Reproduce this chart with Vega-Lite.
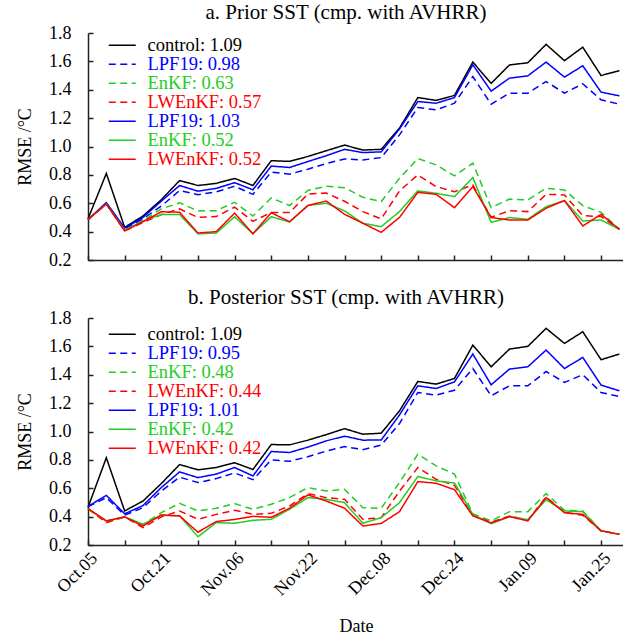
{
  "$schema": "https://vega.github.io/schema/vega-lite/v6.json",
  "padding": {"left": 16, "top": 2, "right": 0, "bottom": 0},
  "config": {
    "font": "Liberation Serif",
    "view": {"stroke": null},
    "axis": {"labelFont": "Liberation Serif", "labelFontSize": 18, "labelColor": "#000", "titleFont": "Liberation Serif", "titleFontSize": 18, "titleFontWeight": "normal", "titleColor": "#000", "domainColor": "#222", "tickColor": "#222", "domainWidth": 1.5, "tickWidth": 1.5, "grid": false, "tickSize": -5},
    "title": {"font": "Liberation Serif", "fontSize": 21, "fontWeight": "normal", "color": "#000", "anchor": "middle", "offset": 1, "dx": -10},
    "legend": {"labelFont": "Liberation Serif"}
  },
  "datasets": {
    "prior": [
{"date":"2019-10-05T00:00","series":"control: 1.09","rmse":0.49},{"date":"2019-10-09T00:00","series":"control: 1.09","rmse":0.81},{"date":"2019-10-13T00:00","series":"control: 1.09","rmse":0.43},{"date":"2019-10-17T00:00","series":"control: 1.09","rmse":0.51},{"date":"2019-10-21T00:00","series":"control: 1.09","rmse":0.625},{"date":"2019-10-25T00:00","series":"control: 1.09","rmse":0.76},{"date":"2019-10-29T00:00","series":"control: 1.09","rmse":0.725},{"date":"2019-11-02T00:00","series":"control: 1.09","rmse":0.74},{"date":"2019-11-06T00:00","series":"control: 1.09","rmse":0.775},{"date":"2019-11-10T00:00","series":"control: 1.09","rmse":0.725},{"date":"2019-11-14T00:00","series":"control: 1.09","rmse":0.9},{"date":"2019-11-18T00:00","series":"control: 1.09","rmse":0.895},{"date":"2019-11-22T00:00","series":"control: 1.09","rmse":0.93},{"date":"2019-11-26T00:00","series":"control: 1.09","rmse":0.97},{"date":"2019-11-30T00:00","series":"control: 1.09","rmse":1.01},{"date":"2019-12-04T00:00","series":"control: 1.09","rmse":0.975},{"date":"2019-12-08T00:00","series":"control: 1.09","rmse":0.98},{"date":"2019-12-12T00:00","series":"control: 1.09","rmse":1.13},{"date":"2019-12-16T00:00","series":"control: 1.09","rmse":1.345},{"date":"2019-12-20T00:00","series":"control: 1.09","rmse":1.325},{"date":"2019-12-24T00:00","series":"control: 1.09","rmse":1.36},{"date":"2019-12-28T00:00","series":"control: 1.09","rmse":1.595},{"date":"2020-01-01T00:00","series":"control: 1.09","rmse":1.445},{"date":"2020-01-05T00:00","series":"control: 1.09","rmse":1.575},{"date":"2020-01-09T00:00","series":"control: 1.09","rmse":1.59},{"date":"2020-01-13T00:00","series":"control: 1.09","rmse":1.72},{"date":"2020-01-17T00:00","series":"control: 1.09","rmse":1.605},{"date":"2020-01-21T00:00","series":"control: 1.09","rmse":1.7},{"date":"2020-01-25T00:00","series":"control: 1.09","rmse":1.5},{"date":"2020-01-29T00:00","series":"control: 1.09","rmse":1.535},
{"date":"2019-10-05T00:00","series":"LPF19: 0.98","rmse":0.485},{"date":"2019-10-09T00:00","series":"LPF19: 0.98","rmse":0.6},{"date":"2019-10-13T00:00","series":"LPF19: 0.98","rmse":0.42},{"date":"2019-10-17T00:00","series":"LPF19: 0.98","rmse":0.49},{"date":"2019-10-21T00:00","series":"LPF19: 0.98","rmse":0.58},{"date":"2019-10-25T00:00","series":"LPF19: 0.98","rmse":0.69},{"date":"2019-10-29T00:00","series":"LPF19: 0.98","rmse":0.66},{"date":"2019-11-02T00:00","series":"LPF19: 0.98","rmse":0.68},{"date":"2019-11-06T00:00","series":"LPF19: 0.98","rmse":0.72},{"date":"2019-11-10T00:00","series":"LPF19: 0.98","rmse":0.663},{"date":"2019-11-14T00:00","series":"LPF19: 0.98","rmse":0.82},{"date":"2019-11-18T00:00","series":"LPF19: 0.98","rmse":0.805},{"date":"2019-11-22T00:00","series":"LPF19: 0.98","rmse":0.84},{"date":"2019-11-26T00:00","series":"LPF19: 0.98","rmse":0.88},{"date":"2019-11-30T00:00","series":"LPF19: 0.98","rmse":0.912},{"date":"2019-12-04T00:00","series":"LPF19: 0.98","rmse":0.905},{"date":"2019-12-08T00:00","series":"LPF19: 0.98","rmse":0.922},{"date":"2019-12-12T00:00","series":"LPF19: 0.98","rmse":1.082},{"date":"2019-12-16T00:00","series":"LPF19: 0.98","rmse":1.275},{"date":"2019-12-20T00:00","series":"LPF19: 0.98","rmse":1.258},{"date":"2019-12-24T00:00","series":"LPF19: 0.98","rmse":1.305},{"date":"2019-12-28T00:00","series":"LPF19: 0.98","rmse":1.493},{"date":"2020-01-01T00:00","series":"LPF19: 0.98","rmse":1.298},{"date":"2020-01-05T00:00","series":"LPF19: 0.98","rmse":1.376},{"date":"2020-01-09T00:00","series":"LPF19: 0.98","rmse":1.376},{"date":"2020-01-13T00:00","series":"LPF19: 0.98","rmse":1.458},{"date":"2020-01-17T00:00","series":"LPF19: 0.98","rmse":1.376},{"date":"2020-01-21T00:00","series":"LPF19: 0.98","rmse":1.442},{"date":"2020-01-25T00:00","series":"LPF19: 0.98","rmse":1.329},{"date":"2020-01-29T00:00","series":"LPF19: 0.98","rmse":1.298},
{"date":"2019-10-05T00:00","series":"EnKF: 0.63","rmse":0.485},{"date":"2019-10-09T00:00","series":"EnKF: 0.63","rmse":0.595},{"date":"2019-10-13T00:00","series":"EnKF: 0.63","rmse":0.41},{"date":"2019-10-17T00:00","series":"EnKF: 0.63","rmse":0.476},{"date":"2019-10-21T00:00","series":"EnKF: 0.63","rmse":0.56},{"date":"2019-10-25T00:00","series":"EnKF: 0.63","rmse":0.603},{"date":"2019-10-29T00:00","series":"EnKF: 0.63","rmse":0.546},{"date":"2019-11-02T00:00","series":"EnKF: 0.63","rmse":0.548},{"date":"2019-11-06T00:00","series":"EnKF: 0.63","rmse":0.607},{"date":"2019-11-10T00:00","series":"EnKF: 0.63","rmse":0.51},{"date":"2019-11-14T00:00","series":"EnKF: 0.63","rmse":0.637},{"date":"2019-11-18T00:00","series":"EnKF: 0.63","rmse":0.584},{"date":"2019-11-22T00:00","series":"EnKF: 0.63","rmse":0.69},{"date":"2019-11-26T00:00","series":"EnKF: 0.63","rmse":0.72},{"date":"2019-11-30T00:00","series":"EnKF: 0.63","rmse":0.71},{"date":"2019-12-04T00:00","series":"EnKF: 0.63","rmse":0.642},{"date":"2019-12-08T00:00","series":"EnKF: 0.63","rmse":0.612},{"date":"2019-12-12T00:00","series":"EnKF: 0.63","rmse":0.776},{"date":"2019-12-16T00:00","series":"EnKF: 0.63","rmse":0.915},{"date":"2019-12-20T00:00","series":"EnKF: 0.63","rmse":0.87},{"date":"2019-12-24T00:00","series":"EnKF: 0.63","rmse":0.793},{"date":"2019-12-28T00:00","series":"EnKF: 0.63","rmse":0.882},{"date":"2020-01-01T00:00","series":"EnKF: 0.63","rmse":0.569},{"date":"2020-01-05T00:00","series":"EnKF: 0.63","rmse":0.63},{"date":"2020-01-09T00:00","series":"EnKF: 0.63","rmse":0.623},{"date":"2020-01-13T00:00","series":"EnKF: 0.63","rmse":0.706},{"date":"2020-01-17T00:00","series":"EnKF: 0.63","rmse":0.694},{"date":"2020-01-21T00:00","series":"EnKF: 0.63","rmse":0.583},{"date":"2020-01-25T00:00","series":"EnKF: 0.63","rmse":0.536},{"date":"2020-01-29T00:00","series":"EnKF: 0.63","rmse":0.416},
{"date":"2019-10-05T00:00","series":"LWEnKF: 0.57","rmse":0.485},{"date":"2019-10-09T00:00","series":"LWEnKF: 0.57","rmse":0.595},{"date":"2019-10-13T00:00","series":"LWEnKF: 0.57","rmse":0.405},{"date":"2019-10-17T00:00","series":"LWEnKF: 0.57","rmse":0.465},{"date":"2019-10-21T00:00","series":"LWEnKF: 0.57","rmse":0.52},{"date":"2019-10-25T00:00","series":"LWEnKF: 0.57","rmse":0.56},{"date":"2019-10-29T00:00","series":"LWEnKF: 0.57","rmse":0.5},{"date":"2019-11-02T00:00","series":"LWEnKF: 0.57","rmse":0.506},{"date":"2019-11-06T00:00","series":"LWEnKF: 0.57","rmse":0.572},{"date":"2019-11-10T00:00","series":"LWEnKF: 0.57","rmse":0.473},{"date":"2019-11-14T00:00","series":"LWEnKF: 0.57","rmse":0.535},{"date":"2019-11-18T00:00","series":"LWEnKF: 0.57","rmse":0.534},{"date":"2019-11-22T00:00","series":"LWEnKF: 0.57","rmse":0.665},{"date":"2019-11-26T00:00","series":"LWEnKF: 0.57","rmse":0.672},{"date":"2019-11-30T00:00","series":"LWEnKF: 0.57","rmse":0.614},{"date":"2019-12-04T00:00","series":"LWEnKF: 0.57","rmse":0.541},{"date":"2019-12-08T00:00","series":"LWEnKF: 0.57","rmse":0.49},{"date":"2019-12-12T00:00","series":"LWEnKF: 0.57","rmse":0.687},{"date":"2019-12-16T00:00","series":"LWEnKF: 0.57","rmse":0.8},{"date":"2019-12-20T00:00","series":"LWEnKF: 0.57","rmse":0.717},{"date":"2019-12-24T00:00","series":"LWEnKF: 0.57","rmse":0.682},{"date":"2019-12-28T00:00","series":"LWEnKF: 0.57","rmse":0.729},{"date":"2020-01-01T00:00","series":"LWEnKF: 0.57","rmse":0.501},{"date":"2020-01-05T00:00","series":"LWEnKF: 0.57","rmse":0.548},{"date":"2020-01-09T00:00","series":"LWEnKF: 0.57","rmse":0.541},{"date":"2020-01-13T00:00","series":"LWEnKF: 0.57","rmse":0.663},{"date":"2020-01-17T00:00","series":"LWEnKF: 0.57","rmse":0.659},{"date":"2020-01-21T00:00","series":"LWEnKF: 0.57","rmse":0.513},{"date":"2020-01-25T00:00","series":"LWEnKF: 0.57","rmse":0.506},{"date":"2020-01-29T00:00","series":"LWEnKF: 0.57","rmse":0.416},
{"date":"2019-10-05T00:00","series":"LPF19: 1.03","rmse":0.485},{"date":"2019-10-09T00:00","series":"LPF19: 1.03","rmse":0.605},{"date":"2019-10-13T00:00","series":"LPF19: 1.03","rmse":0.425},{"date":"2019-10-17T00:00","series":"LPF19: 1.03","rmse":0.5},{"date":"2019-10-21T00:00","series":"LPF19: 1.03","rmse":0.615},{"date":"2019-10-25T00:00","series":"LPF19: 1.03","rmse":0.725},{"date":"2019-10-29T00:00","series":"LPF19: 1.03","rmse":0.685},{"date":"2019-11-02T00:00","series":"LPF19: 1.03","rmse":0.705},{"date":"2019-11-06T00:00","series":"LPF19: 1.03","rmse":0.745},{"date":"2019-11-10T00:00","series":"LPF19: 1.03","rmse":0.695},{"date":"2019-11-14T00:00","series":"LPF19: 1.03","rmse":0.862},{"date":"2019-11-18T00:00","series":"LPF19: 1.03","rmse":0.852},{"date":"2019-11-22T00:00","series":"LPF19: 1.03","rmse":0.894},{"date":"2019-11-26T00:00","series":"LPF19: 1.03","rmse":0.935},{"date":"2019-11-30T00:00","series":"LPF19: 1.03","rmse":0.98},{"date":"2019-12-04T00:00","series":"LPF19: 1.03","rmse":0.957},{"date":"2019-12-08T00:00","series":"LPF19: 1.03","rmse":0.962},{"date":"2019-12-12T00:00","series":"LPF19: 1.03","rmse":1.124},{"date":"2019-12-16T00:00","series":"LPF19: 1.03","rmse":1.317},{"date":"2019-12-20T00:00","series":"LPF19: 1.03","rmse":1.305},{"date":"2019-12-24T00:00","series":"LPF19: 1.03","rmse":1.345},{"date":"2019-12-28T00:00","series":"LPF19: 1.03","rmse":1.576},{"date":"2020-01-01T00:00","series":"LPF19: 1.03","rmse":1.39},{"date":"2020-01-05T00:00","series":"LPF19: 1.03","rmse":1.482},{"date":"2020-01-09T00:00","series":"LPF19: 1.03","rmse":1.498},{"date":"2020-01-13T00:00","series":"LPF19: 1.03","rmse":1.595},{"date":"2020-01-17T00:00","series":"LPF19: 1.03","rmse":1.489},{"date":"2020-01-21T00:00","series":"LPF19: 1.03","rmse":1.569},{"date":"2020-01-25T00:00","series":"LPF19: 1.03","rmse":1.383},{"date":"2020-01-29T00:00","series":"LPF19: 1.03","rmse":1.357},
{"date":"2019-10-05T00:00","series":"EnKF: 0.52","rmse":0.485},{"date":"2019-10-09T00:00","series":"EnKF: 0.52","rmse":0.595},{"date":"2019-10-13T00:00","series":"EnKF: 0.52","rmse":0.41},{"date":"2019-10-17T00:00","series":"EnKF: 0.52","rmse":0.476},{"date":"2019-10-21T00:00","series":"EnKF: 0.52","rmse":0.52},{"date":"2019-10-25T00:00","series":"EnKF: 0.52","rmse":0.52},{"date":"2019-10-29T00:00","series":"EnKF: 0.52","rmse":0.385},{"date":"2019-11-02T00:00","series":"EnKF: 0.52","rmse":0.39},{"date":"2019-11-06T00:00","series":"EnKF: 0.52","rmse":0.505},{"date":"2019-11-10T00:00","series":"EnKF: 0.52","rmse":0.385},{"date":"2019-11-14T00:00","series":"EnKF: 0.52","rmse":0.505},{"date":"2019-11-18T00:00","series":"EnKF: 0.52","rmse":0.468},{"date":"2019-11-22T00:00","series":"EnKF: 0.52","rmse":0.585},{"date":"2019-11-26T00:00","series":"EnKF: 0.52","rmse":0.6},{"date":"2019-11-30T00:00","series":"EnKF: 0.52","rmse":0.546},{"date":"2019-12-04T00:00","series":"EnKF: 0.52","rmse":0.459},{"date":"2019-12-08T00:00","series":"EnKF: 0.52","rmse":0.435},{"date":"2019-12-12T00:00","series":"EnKF: 0.52","rmse":0.541},{"date":"2019-12-16T00:00","series":"EnKF: 0.52","rmse":0.687},{"date":"2019-12-20T00:00","series":"EnKF: 0.52","rmse":0.67},{"date":"2019-12-24T00:00","series":"EnKF: 0.52","rmse":0.647},{"date":"2019-12-28T00:00","series":"EnKF: 0.52","rmse":0.781},{"date":"2020-01-01T00:00","series":"EnKF: 0.52","rmse":0.466},{"date":"2020-01-05T00:00","series":"EnKF: 0.52","rmse":0.499},{"date":"2020-01-09T00:00","series":"EnKF: 0.52","rmse":0.487},{"date":"2020-01-13T00:00","series":"EnKF: 0.52","rmse":0.576},{"date":"2020-01-17T00:00","series":"EnKF: 0.52","rmse":0.619},{"date":"2020-01-21T00:00","series":"EnKF: 0.52","rmse":0.475},{"date":"2020-01-25T00:00","series":"EnKF: 0.52","rmse":0.482},{"date":"2020-01-29T00:00","series":"EnKF: 0.52","rmse":0.416},
{"date":"2019-10-05T00:00","series":"LWEnKF: 0.52","rmse":0.485},{"date":"2019-10-09T00:00","series":"LWEnKF: 0.52","rmse":0.595},{"date":"2019-10-13T00:00","series":"LWEnKF: 0.52","rmse":0.405},{"date":"2019-10-17T00:00","series":"LWEnKF: 0.52","rmse":0.47},{"date":"2019-10-21T00:00","series":"LWEnKF: 0.52","rmse":0.54},{"date":"2019-10-25T00:00","series":"LWEnKF: 0.52","rmse":0.537},{"date":"2019-10-29T00:00","series":"LWEnKF: 0.52","rmse":0.39},{"date":"2019-11-02T00:00","series":"LWEnKF: 0.52","rmse":0.4},{"date":"2019-11-06T00:00","series":"LWEnKF: 0.52","rmse":0.53},{"date":"2019-11-10T00:00","series":"LWEnKF: 0.52","rmse":0.385},{"date":"2019-11-14T00:00","series":"LWEnKF: 0.52","rmse":0.533},{"date":"2019-11-18T00:00","series":"LWEnKF: 0.52","rmse":0.47},{"date":"2019-11-22T00:00","series":"LWEnKF: 0.52","rmse":0.583},{"date":"2019-11-26T00:00","series":"LWEnKF: 0.52","rmse":0.616},{"date":"2019-11-30T00:00","series":"LWEnKF: 0.52","rmse":0.522},{"date":"2019-12-04T00:00","series":"LWEnKF: 0.52","rmse":0.459},{"date":"2019-12-08T00:00","series":"LWEnKF: 0.52","rmse":0.395},{"date":"2019-12-12T00:00","series":"LWEnKF: 0.52","rmse":0.5},{"date":"2019-12-16T00:00","series":"LWEnKF: 0.52","rmse":0.677},{"date":"2019-12-20T00:00","series":"LWEnKF: 0.52","rmse":0.663},{"date":"2019-12-24T00:00","series":"LWEnKF: 0.52","rmse":0.569},{"date":"2019-12-28T00:00","series":"LWEnKF: 0.52","rmse":0.718},{"date":"2020-01-01T00:00","series":"LWEnKF: 0.52","rmse":0.499},{"date":"2020-01-05T00:00","series":"LWEnKF: 0.52","rmse":0.482},{"date":"2020-01-09T00:00","series":"LWEnKF: 0.52","rmse":0.482},{"date":"2020-01-13T00:00","series":"LWEnKF: 0.52","rmse":0.565},{"date":"2020-01-17T00:00","series":"LWEnKF: 0.52","rmse":0.619},{"date":"2020-01-21T00:00","series":"LWEnKF: 0.52","rmse":0.44},{"date":"2020-01-25T00:00","series":"LWEnKF: 0.52","rmse":0.522},{"date":"2020-01-29T00:00","series":"LWEnKF: 0.52","rmse":0.416}
    ],
    "posterior": [
{"date":"2019-10-05T00:00","series":"control: 1.09","rmse":0.465},{"date":"2019-10-09T00:00","series":"control: 1.09","rmse":0.815},{"date":"2019-10-13T00:00","series":"control: 1.09","rmse":0.44},{"date":"2019-10-17T00:00","series":"control: 1.09","rmse":0.51},{"date":"2019-10-21T00:00","series":"control: 1.09","rmse":0.633},{"date":"2019-10-25T00:00","series":"control: 1.09","rmse":0.767},{"date":"2019-10-29T00:00","series":"control: 1.09","rmse":0.73},{"date":"2019-11-02T00:00","series":"control: 1.09","rmse":0.746},{"date":"2019-11-06T00:00","series":"control: 1.09","rmse":0.78},{"date":"2019-11-10T00:00","series":"control: 1.09","rmse":0.732},{"date":"2019-11-14T00:00","series":"control: 1.09","rmse":0.908},{"date":"2019-11-18T00:00","series":"control: 1.09","rmse":0.906},{"date":"2019-11-22T00:00","series":"control: 1.09","rmse":0.939},{"date":"2019-11-26T00:00","series":"control: 1.09","rmse":0.978},{"date":"2019-11-30T00:00","series":"control: 1.09","rmse":1.02},{"date":"2019-12-04T00:00","series":"control: 1.09","rmse":0.981},{"date":"2019-12-08T00:00","series":"control: 1.09","rmse":0.988},{"date":"2019-12-12T00:00","series":"control: 1.09","rmse":1.146},{"date":"2019-12-16T00:00","series":"control: 1.09","rmse":1.353},{"date":"2019-12-20T00:00","series":"control: 1.09","rmse":1.334},{"date":"2019-12-24T00:00","series":"control: 1.09","rmse":1.374},{"date":"2019-12-28T00:00","series":"control: 1.09","rmse":1.609},{"date":"2020-01-01T00:00","series":"control: 1.09","rmse":1.456},{"date":"2020-01-05T00:00","series":"control: 1.09","rmse":1.581},{"date":"2020-01-09T00:00","series":"control: 1.09","rmse":1.6},{"date":"2020-01-13T00:00","series":"control: 1.09","rmse":1.727},{"date":"2020-01-17T00:00","series":"control: 1.09","rmse":1.621},{"date":"2020-01-21T00:00","series":"control: 1.09","rmse":1.703},{"date":"2020-01-25T00:00","series":"control: 1.09","rmse":1.506},{"date":"2020-01-29T00:00","series":"control: 1.09","rmse":1.546},
{"date":"2019-10-05T00:00","series":"LPF19: 0.95","rmse":0.47},{"date":"2019-10-09T00:00","series":"LPF19: 0.95","rmse":0.534},{"date":"2019-10-13T00:00","series":"LPF19: 0.95","rmse":0.41},{"date":"2019-10-17T00:00","series":"LPF19: 0.95","rmse":0.463},{"date":"2019-10-21T00:00","series":"LPF19: 0.95","rmse":0.58},{"date":"2019-10-25T00:00","series":"LPF19: 0.95","rmse":0.678},{"date":"2019-10-29T00:00","series":"LPF19: 0.95","rmse":0.64},{"date":"2019-11-02T00:00","series":"LPF19: 0.95","rmse":0.668},{"date":"2019-11-06T00:00","series":"LPF19: 0.95","rmse":0.708},{"date":"2019-11-10T00:00","series":"LPF19: 0.95","rmse":0.66},{"date":"2019-11-14T00:00","series":"LPF19: 0.95","rmse":0.8},{"date":"2019-11-18T00:00","series":"LPF19: 0.95","rmse":0.79},{"date":"2019-11-22T00:00","series":"LPF19: 0.95","rmse":0.822},{"date":"2019-11-26T00:00","series":"LPF19: 0.95","rmse":0.862},{"date":"2019-11-30T00:00","series":"LPF19: 0.95","rmse":0.894},{"date":"2019-12-04T00:00","series":"LPF19: 0.95","rmse":0.872},{"date":"2019-12-08T00:00","series":"LPF19: 0.95","rmse":0.904},{"date":"2019-12-12T00:00","series":"LPF19: 0.95","rmse":1.056},{"date":"2019-12-16T00:00","series":"LPF19: 0.95","rmse":1.275},{"date":"2019-12-20T00:00","series":"LPF19: 0.95","rmse":1.256},{"date":"2019-12-24T00:00","series":"LPF19: 0.95","rmse":1.291},{"date":"2019-12-28T00:00","series":"LPF19: 0.95","rmse":1.444},{"date":"2020-01-01T00:00","series":"LPF19: 0.95","rmse":1.252},{"date":"2020-01-05T00:00","series":"LPF19: 0.95","rmse":1.322},{"date":"2020-01-09T00:00","series":"LPF19: 0.95","rmse":1.322},{"date":"2020-01-13T00:00","series":"LPF19: 0.95","rmse":1.423},{"date":"2020-01-17T00:00","series":"LPF19: 0.95","rmse":1.346},{"date":"2020-01-21T00:00","series":"LPF19: 0.95","rmse":1.4},{"date":"2020-01-25T00:00","series":"LPF19: 0.95","rmse":1.275},{"date":"2020-01-29T00:00","series":"LPF19: 0.95","rmse":1.247},
{"date":"2019-10-05T00:00","series":"EnKF: 0.48","rmse":0.456},{"date":"2019-10-09T00:00","series":"EnKF: 0.48","rmse":0.362},{"date":"2019-10-13T00:00","series":"EnKF: 0.48","rmse":0.398},{"date":"2019-10-17T00:00","series":"EnKF: 0.48","rmse":0.345},{"date":"2019-10-21T00:00","series":"EnKF: 0.48","rmse":0.428},{"date":"2019-10-25T00:00","series":"EnKF: 0.48","rmse":0.494},{"date":"2019-10-29T00:00","series":"EnKF: 0.48","rmse":0.44},{"date":"2019-11-02T00:00","series":"EnKF: 0.48","rmse":0.459},{"date":"2019-11-06T00:00","series":"EnKF: 0.48","rmse":0.492},{"date":"2019-11-10T00:00","series":"EnKF: 0.48","rmse":0.452},{"date":"2019-11-14T00:00","series":"EnKF: 0.48","rmse":0.487},{"date":"2019-11-18T00:00","series":"EnKF: 0.48","rmse":0.534},{"date":"2019-11-22T00:00","series":"EnKF: 0.48","rmse":0.605},{"date":"2019-11-26T00:00","series":"EnKF: 0.48","rmse":0.581},{"date":"2019-11-30T00:00","series":"EnKF: 0.48","rmse":0.593},{"date":"2019-12-04T00:00","series":"EnKF: 0.48","rmse":0.463},{"date":"2019-12-08T00:00","series":"EnKF: 0.48","rmse":0.459},{"date":"2019-12-12T00:00","series":"EnKF: 0.48","rmse":0.64},{"date":"2019-12-16T00:00","series":"EnKF: 0.48","rmse":0.84},{"date":"2019-12-20T00:00","series":"EnKF: 0.48","rmse":0.758},{"date":"2019-12-24T00:00","series":"EnKF: 0.48","rmse":0.7},{"date":"2019-12-28T00:00","series":"EnKF: 0.48","rmse":0.42},{"date":"2020-01-01T00:00","series":"EnKF: 0.48","rmse":0.37},{"date":"2020-01-05T00:00","series":"EnKF: 0.48","rmse":0.435},{"date":"2020-01-09T00:00","series":"EnKF: 0.48","rmse":0.435},{"date":"2020-01-13T00:00","series":"EnKF: 0.48","rmse":0.562},{"date":"2020-01-17T00:00","series":"EnKF: 0.48","rmse":0.445},{"date":"2020-01-21T00:00","series":"EnKF: 0.48","rmse":0.44},{"date":"2020-01-25T00:00","series":"EnKF: 0.48","rmse":0.3},{"date":"2020-01-29T00:00","series":"EnKF: 0.48","rmse":0.275},
{"date":"2019-10-05T00:00","series":"LWEnKF: 0.44","rmse":0.456},{"date":"2019-10-09T00:00","series":"LWEnKF: 0.44","rmse":0.358},{"date":"2019-10-13T00:00","series":"LWEnKF: 0.44","rmse":0.398},{"date":"2019-10-17T00:00","series":"LWEnKF: 0.44","rmse":0.322},{"date":"2019-10-21T00:00","series":"LWEnKF: 0.44","rmse":0.398},{"date":"2019-10-25T00:00","series":"LWEnKF: 0.44","rmse":0.44},{"date":"2019-10-29T00:00","series":"LWEnKF: 0.44","rmse":0.381},{"date":"2019-11-02T00:00","series":"LWEnKF: 0.44","rmse":0.416},{"date":"2019-11-06T00:00","series":"LWEnKF: 0.44","rmse":0.445},{"date":"2019-11-10T00:00","series":"LWEnKF: 0.44","rmse":0.416},{"date":"2019-11-14T00:00","series":"LWEnKF: 0.44","rmse":0.423},{"date":"2019-11-18T00:00","series":"LWEnKF: 0.44","rmse":0.475},{"date":"2019-11-22T00:00","series":"LWEnKF: 0.44","rmse":0.562},{"date":"2019-11-26T00:00","series":"LWEnKF: 0.44","rmse":0.534},{"date":"2019-11-30T00:00","series":"LWEnKF: 0.44","rmse":0.522},{"date":"2019-12-04T00:00","series":"LWEnKF: 0.44","rmse":0.381},{"date":"2019-12-08T00:00","series":"LWEnKF: 0.44","rmse":0.393},{"date":"2019-12-12T00:00","series":"LWEnKF: 0.44","rmse":0.58},{"date":"2019-12-16T00:00","series":"LWEnKF: 0.44","rmse":0.746},{"date":"2019-12-20T00:00","series":"LWEnKF: 0.44","rmse":0.663},{"date":"2019-12-24T00:00","series":"LWEnKF: 0.44","rmse":0.62},{"date":"2019-12-28T00:00","series":"LWEnKF: 0.44","rmse":0.41},{"date":"2020-01-01T00:00","series":"LWEnKF: 0.44","rmse":0.36},{"date":"2020-01-05T00:00","series":"LWEnKF: 0.44","rmse":0.405},{"date":"2020-01-09T00:00","series":"LWEnKF: 0.44","rmse":0.375},{"date":"2020-01-13T00:00","series":"LWEnKF: 0.44","rmse":0.539},{"date":"2020-01-17T00:00","series":"LWEnKF: 0.44","rmse":0.43},{"date":"2020-01-21T00:00","series":"LWEnKF: 0.44","rmse":0.41},{"date":"2020-01-25T00:00","series":"LWEnKF: 0.44","rmse":0.3},{"date":"2020-01-29T00:00","series":"LWEnKF: 0.44","rmse":0.275},
{"date":"2019-10-05T00:00","series":"LPF19: 1.01","rmse":0.472},{"date":"2019-10-09T00:00","series":"LPF19: 1.01","rmse":0.55},{"date":"2019-10-13T00:00","series":"LPF19: 1.01","rmse":0.42},{"date":"2019-10-17T00:00","series":"LPF19: 1.01","rmse":0.478},{"date":"2019-10-21T00:00","series":"LPF19: 1.01","rmse":0.605},{"date":"2019-10-25T00:00","series":"LPF19: 1.01","rmse":0.715},{"date":"2019-10-29T00:00","series":"LPF19: 1.01","rmse":0.675},{"date":"2019-11-02T00:00","series":"LPF19: 1.01","rmse":0.7},{"date":"2019-11-06T00:00","series":"LPF19: 1.01","rmse":0.746},{"date":"2019-11-10T00:00","series":"LPF19: 1.01","rmse":0.687},{"date":"2019-11-14T00:00","series":"LPF19: 1.01","rmse":0.859},{"date":"2019-11-18T00:00","series":"LPF19: 1.01","rmse":0.852},{"date":"2019-11-22T00:00","series":"LPF19: 1.01","rmse":0.89},{"date":"2019-11-26T00:00","series":"LPF19: 1.01","rmse":0.934},{"date":"2019-11-30T00:00","series":"LPF19: 1.01","rmse":0.967},{"date":"2019-12-04T00:00","series":"LPF19: 1.01","rmse":0.939},{"date":"2019-12-08T00:00","series":"LPF19: 1.01","rmse":0.94},{"date":"2019-12-12T00:00","series":"LPF19: 1.01","rmse":1.117},{"date":"2019-12-16T00:00","series":"LPF19: 1.01","rmse":1.322},{"date":"2019-12-20T00:00","series":"LPF19: 1.01","rmse":1.303},{"date":"2019-12-24T00:00","series":"LPF19: 1.01","rmse":1.35},{"date":"2019-12-28T00:00","series":"LPF19: 1.01","rmse":1.546},{"date":"2020-01-01T00:00","series":"LPF19: 1.01","rmse":1.329},{"date":"2020-01-05T00:00","series":"LPF19: 1.01","rmse":1.44},{"date":"2020-01-09T00:00","series":"LPF19: 1.01","rmse":1.456},{"date":"2020-01-13T00:00","series":"LPF19: 1.01","rmse":1.574},{"date":"2020-01-17T00:00","series":"LPF19: 1.01","rmse":1.444},{"date":"2020-01-21T00:00","series":"LPF19: 1.01","rmse":1.522},{"date":"2020-01-25T00:00","series":"LPF19: 1.01","rmse":1.327},{"date":"2020-01-29T00:00","series":"LPF19: 1.01","rmse":1.287},
{"date":"2019-10-05T00:00","series":"EnKF: 0.42","rmse":0.456},{"date":"2019-10-09T00:00","series":"EnKF: 0.42","rmse":0.37},{"date":"2019-10-13T00:00","series":"EnKF: 0.42","rmse":0.398},{"date":"2019-10-17T00:00","series":"EnKF: 0.42","rmse":0.345},{"date":"2019-10-21T00:00","series":"EnKF: 0.42","rmse":0.41},{"date":"2019-10-25T00:00","series":"EnKF: 0.42","rmse":0.405},{"date":"2019-10-29T00:00","series":"EnKF: 0.42","rmse":0.258},{"date":"2019-11-02T00:00","series":"EnKF: 0.42","rmse":0.358},{"date":"2019-11-06T00:00","series":"EnKF: 0.42","rmse":0.353},{"date":"2019-11-10T00:00","series":"EnKF: 0.42","rmse":0.374},{"date":"2019-11-14T00:00","series":"EnKF: 0.42","rmse":0.381},{"date":"2019-11-18T00:00","series":"EnKF: 0.42","rmse":0.452},{"date":"2019-11-22T00:00","series":"EnKF: 0.42","rmse":0.534},{"date":"2019-11-26T00:00","series":"EnKF: 0.42","rmse":0.522},{"date":"2019-11-30T00:00","series":"EnKF: 0.42","rmse":0.499},{"date":"2019-12-04T00:00","series":"EnKF: 0.42","rmse":0.353},{"date":"2019-12-08T00:00","series":"EnKF: 0.42","rmse":0.393},{"date":"2019-12-12T00:00","series":"EnKF: 0.42","rmse":0.499},{"date":"2019-12-16T00:00","series":"EnKF: 0.42","rmse":0.683},{"date":"2019-12-20T00:00","series":"EnKF: 0.42","rmse":0.652},{"date":"2019-12-24T00:00","series":"EnKF: 0.42","rmse":0.637},{"date":"2019-12-28T00:00","series":"EnKF: 0.42","rmse":0.416},{"date":"2020-01-01T00:00","series":"EnKF: 0.42","rmse":0.35},{"date":"2020-01-05T00:00","series":"EnKF: 0.42","rmse":0.4},{"date":"2020-01-09T00:00","series":"EnKF: 0.42","rmse":0.379},{"date":"2020-01-13T00:00","series":"EnKF: 0.42","rmse":0.518},{"date":"2020-01-17T00:00","series":"EnKF: 0.42","rmse":0.44},{"date":"2020-01-21T00:00","series":"EnKF: 0.42","rmse":0.435},{"date":"2020-01-25T00:00","series":"EnKF: 0.42","rmse":0.3},{"date":"2020-01-29T00:00","series":"EnKF: 0.42","rmse":0.275},
{"date":"2019-10-05T00:00","series":"LWEnKF: 0.42","rmse":0.456},{"date":"2019-10-09T00:00","series":"LWEnKF: 0.42","rmse":0.37},{"date":"2019-10-13T00:00","series":"LWEnKF: 0.42","rmse":0.398},{"date":"2019-10-17T00:00","series":"LWEnKF: 0.42","rmse":0.334},{"date":"2019-10-21T00:00","series":"LWEnKF: 0.42","rmse":0.412},{"date":"2019-10-25T00:00","series":"LWEnKF: 0.42","rmse":0.405},{"date":"2019-10-29T00:00","series":"LWEnKF: 0.42","rmse":0.29},{"date":"2019-11-02T00:00","series":"LWEnKF: 0.42","rmse":0.365},{"date":"2019-11-06T00:00","series":"LWEnKF: 0.42","rmse":0.38},{"date":"2019-11-10T00:00","series":"LWEnKF: 0.42","rmse":0.402},{"date":"2019-11-14T00:00","series":"LWEnKF: 0.42","rmse":0.395},{"date":"2019-11-18T00:00","series":"LWEnKF: 0.42","rmse":0.459},{"date":"2019-11-22T00:00","series":"LWEnKF: 0.42","rmse":0.553},{"date":"2019-11-26T00:00","series":"LWEnKF: 0.42","rmse":0.51},{"date":"2019-11-30T00:00","series":"LWEnKF: 0.42","rmse":0.459},{"date":"2019-12-04T00:00","series":"LWEnKF: 0.42","rmse":0.334},{"date":"2019-12-08T00:00","series":"LWEnKF: 0.42","rmse":0.352},{"date":"2019-12-12T00:00","series":"LWEnKF: 0.42","rmse":0.435},{"date":"2019-12-16T00:00","series":"LWEnKF: 0.42","rmse":0.647},{"date":"2019-12-20T00:00","series":"LWEnKF: 0.42","rmse":0.635},{"date":"2019-12-24T00:00","series":"LWEnKF: 0.42","rmse":0.59},{"date":"2019-12-28T00:00","series":"LWEnKF: 0.42","rmse":0.405},{"date":"2020-01-01T00:00","series":"LWEnKF: 0.42","rmse":0.356},{"date":"2020-01-05T00:00","series":"LWEnKF: 0.42","rmse":0.4},{"date":"2020-01-09T00:00","series":"LWEnKF: 0.42","rmse":0.37},{"date":"2020-01-13T00:00","series":"LWEnKF: 0.42","rmse":0.534},{"date":"2020-01-17T00:00","series":"LWEnKF: 0.42","rmse":0.428},{"date":"2020-01-21T00:00","series":"LWEnKF: 0.42","rmse":0.416},{"date":"2020-01-25T00:00","series":"LWEnKF: 0.42","rmse":0.3},{"date":"2020-01-29T00:00","series":"LWEnKF: 0.42","rmse":0.275}
    ]
  },
  "spacing": 18,
  "vconcat": [
    {
      "title": {"text": "a. Prior SST (cmp. with AVHRR)"},
      "width": 536, "height": 227,
      "data": {"name": "prior"},
      "mark": {"type": "line", "strokeWidth": 1.5},
      "encoding": {
        "x": {"field": "date", "type": "temporal",
              "scale": {"domain": [{"year": 2019, "month": 10, "date": 5}, {"year": 2020, "month": 1, "date": 30}]},
              "axis": {"labels": false, "title": null, "values": [{"year":2019,"month":10,"date":5},{"year":2019,"month":10,"date":13},{"year":2019,"month":10,"date":21},{"year":2019,"month":10,"date":29},{"year":2019,"month":11,"date":6},{"year":2019,"month":11,"date":14},{"year":2019,"month":11,"date":22},{"year":2019,"month":11,"date":30},{"year":2019,"month":12,"date":8},{"year":2019,"month":12,"date":16},{"year":2019,"month":12,"date":24},{"year":2020,"month":1,"date":1},{"year":2020,"month":1,"date":9},{"year":2020,"month":1,"date":17},{"year":2020,"month":1,"date":25}]}},
        "y": {"field": "rmse", "type": "quantitative", "scale": {"domain": [0.2, 1.8]},
              "axis": {"values": [0.2,0.4,0.6,0.8,1.0,1.2,1.4,1.6,1.8], "format": ".1f", "title": "RMSE /°C", "labelFont": "Liberation Serif", "titleFont": "Liberation Serif", "labelPadding": 22, "titlePadding": 14}},
        "color": {"field": "series", "type": "nominal",
                  "scale": {"domain": ["control: 1.09","LPF19: 0.98","EnKF: 0.63","LWEnKF: 0.57","LPF19: 1.03","EnKF: 0.52","LWEnKF: 0.52"], "range": ["#000000","#0000ff","#22cc22","#ff0000","#0000ff","#22cc22","#ff0000"]},
                  "legend": {"title": null, "orient": "none", "legendX": 25, "legendY": 3, "symbolType": "M-2,0H2", "symbolSize": 182, "symbolStrokeWidth": 1.5, "symbolFillColor": "transparent", "labelFont": "Liberation Serif", "labelFontSize": 18.5, "labelOffset": 16, "labelLimit": 400, "rowPadding": 0,
                             "encode": {"labels": {"update": {"fill": {"signal": "indexof(datum.label,'control')===0 ? '#000000' : indexof(datum.label,'LPF19')===0 ? '#0000ff' : indexof(datum.label,'EnKF')===0 ? '#22cc22' : '#ff0000'"}}}}}},
        "strokeDash": {"field": "series", "type": "nominal",
                  "scale": {"domain": ["control: 1.09","LPF19: 0.98","EnKF: 0.63","LWEnKF: 0.57","LPF19: 1.03","EnKF: 0.52","LWEnKF: 0.52"], "range": [[1,0],[7,4.5],[7,4.5],[7,4.5],[1,0],[1,0],[1,0]]},
                  "legend": {"title": null, "orient": "none", "legendX": 25, "legendY": 3, "symbolType": "M-2,0H2", "symbolSize": 182, "symbolStrokeWidth": 1.5, "symbolFillColor": "transparent", "labelFont": "Liberation Serif", "labelFontSize": 18.5, "labelOffset": 16, "labelLimit": 400, "rowPadding": 0,
                             "encode": {"labels": {"update": {"fill": {"signal": "indexof(datum.label,'control')===0 ? '#000000' : indexof(datum.label,'LPF19')===0 ? '#0000ff' : indexof(datum.label,'EnKF')===0 ? '#22cc22' : '#ff0000'"}}}}}}
      }
    },
    {
      "title": {"text": "b. Posterior SST (cmp. with AVHRR)"},
      "width": 536, "height": 227,
      "data": {"name": "posterior"},
      "mark": {"type": "line", "strokeWidth": 1.5},
      "encoding": {
        "x": {"field": "date", "type": "temporal",
              "scale": {"domain": [{"year": 2019, "month": 10, "date": 5}, {"year": 2020, "month": 1, "date": 30}]},
              "axis": {"title": "Date", "format": "%b.%d", "labelFont": "Liberation Serif", "titleFont": "Liberation Serif", "labelAngle": -45, "labelFontSize": 18, "labelPadding": 9, "titlePadding": 19, "values": [{"year":2019,"month":10,"date":5},{"year":2019,"month":10,"date":13},{"year":2019,"month":10,"date":21},{"year":2019,"month":10,"date":29},{"year":2019,"month":11,"date":6},{"year":2019,"month":11,"date":14},{"year":2019,"month":11,"date":22},{"year":2019,"month":11,"date":30},{"year":2019,"month":12,"date":8},{"year":2019,"month":12,"date":16},{"year":2019,"month":12,"date":24},{"year":2020,"month":1,"date":1},{"year":2020,"month":1,"date":9},{"year":2020,"month":1,"date":17},{"year":2020,"month":1,"date":25}]}},
        "y": {"field": "rmse", "type": "quantitative", "scale": {"domain": [0.2, 1.8]},
              "axis": {"values": [0.2,0.4,0.6,0.8,1.0,1.2,1.4,1.6,1.8], "format": ".1f", "title": "RMSE /°C", "labelFont": "Liberation Serif", "titleFont": "Liberation Serif", "labelPadding": 22, "titlePadding": 14}},
        "color": {"field": "series", "type": "nominal",
                  "scale": {"domain": ["control: 1.09","LPF19: 0.95","EnKF: 0.48","LWEnKF: 0.44","LPF19: 1.01","EnKF: 0.42","LWEnKF: 0.42"], "range": ["#000000","#0000ff","#22cc22","#ff0000","#0000ff","#22cc22","#ff0000"]},
                  "legend": {"title": null, "orient": "none", "legendX": 25, "legendY": 7, "symbolType": "M-2,0H2", "symbolSize": 182, "symbolStrokeWidth": 1.5, "symbolFillColor": "transparent", "labelFont": "Liberation Serif", "labelFontSize": 18.5, "labelOffset": 16, "labelLimit": 400, "rowPadding": 0,
                             "encode": {"labels": {"update": {"fill": {"signal": "indexof(datum.label,'control')===0 ? '#000000' : indexof(datum.label,'LPF19')===0 ? '#0000ff' : indexof(datum.label,'EnKF')===0 ? '#22cc22' : '#ff0000'"}}}}}},
        "strokeDash": {"field": "series", "type": "nominal",
                  "scale": {"domain": ["control: 1.09","LPF19: 0.95","EnKF: 0.48","LWEnKF: 0.44","LPF19: 1.01","EnKF: 0.42","LWEnKF: 0.42"], "range": [[1,0],[7,4.5],[7,4.5],[7,4.5],[1,0],[1,0],[1,0]]},
                  "legend": {"title": null, "orient": "none", "legendX": 25, "legendY": 7, "symbolType": "M-2,0H2", "symbolSize": 182, "symbolStrokeWidth": 1.5, "symbolFillColor": "transparent", "labelFont": "Liberation Serif", "labelFontSize": 18.5, "labelOffset": 16, "labelLimit": 400, "rowPadding": 0,
                             "encode": {"labels": {"update": {"fill": {"signal": "indexof(datum.label,'control')===0 ? '#000000' : indexof(datum.label,'LPF19')===0 ? '#0000ff' : indexof(datum.label,'EnKF')===0 ? '#22cc22' : '#ff0000'"}}}}}}
      }
    }
  ],
  "resolve": {"scale": {"color": "independent", "strokeDash": "independent"}, "legend": {"color": "independent", "strokeDash": "independent"}}
}
